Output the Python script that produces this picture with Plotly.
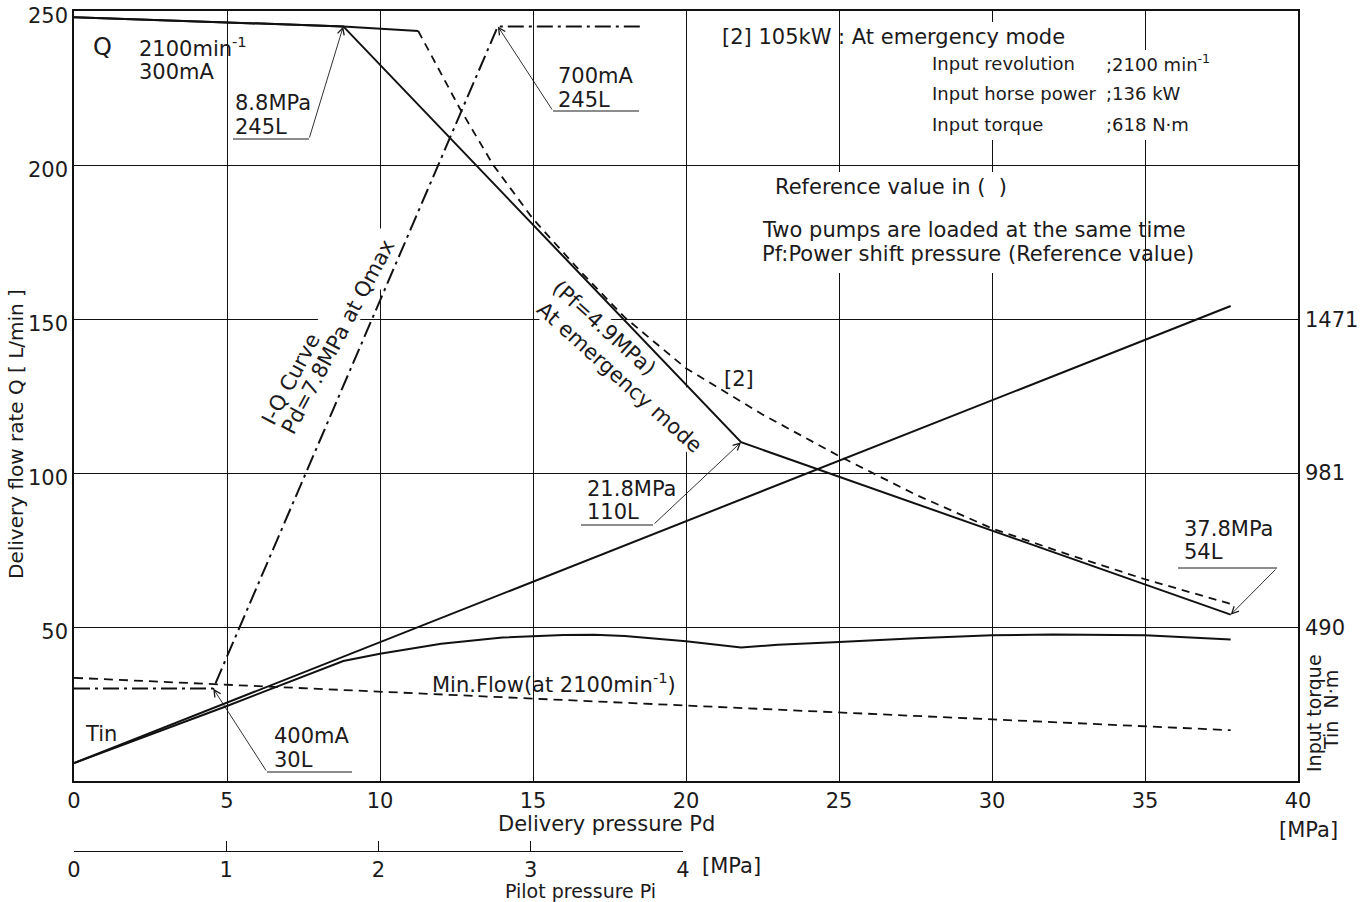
import math
import plotly.graph_objects as go

# ---------------- data ----------------
pd_ticks = [0, 5, 10, 15, 20, 25, 30, 35, 40]      # delivery pressure Pd [MPa]
q_ticks = [50, 100, 150, 200, 250]                  # delivery flow rate Q [L/min]
tin_ticks = [490, 981, 1471]                        # input torque Tin [N·m]
pilot_ticks = [0, 1, 2, 3, 4]                       # pilot pressure Pi [MPa]

# P-Q at emergency mode (Pf = 4.9 MPa)
emerg_pd = [0, 8.8, 21.8, 37.8]
emerg_q = [248, 245, 110, 54]

# [2] 105 kW curve
kw105_pd = [0, 8.8, 11.25, 12.6, 13.7, 15.0, 16.5, 18.0, 20.0, 22.5, 25.0, 27.5, 30.0, 32.5, 35.0, 37.8]
kw105_q = [248, 245, 243.5, 218.5, 200, 182.5, 166, 150.5, 134, 119, 105.5, 93, 82, 73.5, 65.5, 57.5]

# I-Q curve (Pd = 7.8 MPa at Qmax), 400 mA -> 30 L, 700 mA -> 245 L
iq_pd = [0, 4.55, 13.85, 18.55]
iq_q = [30, 30, 245, 245]

# minimum flow at 2100 min-1
minflow_pd = [0, 37.8]
minflow_q = [33.5, 16.5]

# input torque Tin [N·m]
tin_full_pd = [0, 37.8]
tin_full = [57, 1513]
tin_pd = [0, 5, 8.8, 10, 12, 14, 16, 17, 18, 20, 21.8, 23, 25, 27.5, 30, 32, 35, 37.8]
tin = [57, 239, 382, 405, 437, 457, 465, 466, 462, 445, 425, 434, 443, 455, 464, 467, 464, 451]

# ---------------- geometry ----------------
W, H = 1364, 902
ML, MR, MT, MB = 74, 66, 11, 51
PLOT_BOTTOM = 781
PD_MAX, Q_MAX = 40, 250
NM_PER_LPM = 9.81          # torque scale on the right per unit of the flow scale

plot_w = W - ML - MR
paper_h = H - MT - MB
plot_h = PLOT_BOTTOM - MT
y_dom0 = (H - MB - PLOT_BOTTOM) / paper_h


def px_x(px):
    return (px - ML) / plot_w * PD_MAX


def px_y(py):
    return (PLOT_BOTTOM - py) / plot_h * Q_MAX


def paper_x(px):
    return (px - ML) / plot_w


def paper_y(py):
    return (H - MB - py) / paper_h


INK = "#1c1a1b"
FONT = "DejaVu Sans"

annotations = []
shapes = []


def label(px, py, text, size=21, anchor="left", **kw):
    annotations.append(dict(
        x=px_x(px), y=px_y(py), xref="x", yref="y", text=text, showarrow=False,
        xanchor=anchor, yanchor="middle", font=dict(family=FONT, size=size, color=INK), **kw))


def paper_label(px, py, text, size=21, anchor="center", angle=0):
    annotations.append(dict(
        x=paper_x(px), y=paper_y(py), xref="paper", yref="paper", text=text,
        showarrow=False, xanchor=anchor, yanchor="middle", textangle=angle,
        font=dict(family=FONT, size=size, color=INK)))


def callout(lines, left, centers, ul_x0, ul_x1, ul_y, elbow_x, target):
    for t, cy in zip(lines, centers):
        label(left, cy, t)
    shapes.append(dict(type="line", xref="x", yref="y", x0=px_x(ul_x0), x1=px_x(ul_x1),
                       y0=px_y(ul_y), y1=px_y(ul_y), line=dict(color=INK, width=1)))
    annotations.append(dict(
        x=target[0], y=target[1], ax=px_x(elbow_x), ay=px_y(ul_y), xref="x", yref="y",
        axref="x", ayref="y", text="", showarrow=True, arrowhead=5, arrowsize=1.5,
        arrowwidth=0.9, arrowcolor=INK, standoff=0))


def rect_plate(x0, x1, y0, y1):
    # white plate behind text, above the grid but beneath the curves
    shapes.append(dict(type="rect", xref="x", yref="y", x0=px_x(x0), x1=px_x(x1),
                       y0=px_y(y1), y1=px_y(y0), fillcolor="white", line=dict(width=0),
                       layer="between"))


def rotated_plate(cx, cy, length, thick, angle_deg):
    a = math.radians(angle_deg)
    ux, uy = math.cos(a), math.sin(a)
    vx, vy = -uy, ux
    pts = []
    for s, t in ((-1, -1), (1, -1), (1, 1), (-1, 1)):
        px = cx + s * length / 2 * ux + t * thick / 2 * vx
        py = cy + s * length / 2 * uy + t * thick / 2 * vy
        pts.append((px_x(px), px_y(py)))
    path = "M " + " L ".join(f"{x:.4f},{y:.4f}" for x, y in pts) + " Z"
    shapes.append(dict(type="path", path=path, xref="x", yref="y", fillcolor="white",
                       line=dict(width=0), layer="between"))


# ---------------- traces ----------------
fig = go.Figure()
black = "#111111"

fig.add_trace(go.Scatter(x=emerg_pd, y=emerg_q, mode="lines",
                         line=dict(color=black, width=2)))
fig.add_trace(go.Scatter(x=kw105_pd[:3], y=kw105_q[:3], mode="lines",
                         line=dict(color=black, width=2)))
fig.add_trace(go.Scatter(x=kw105_pd[2:], y=kw105_q[2:], mode="lines",
                         line=dict(color=black, width=1.8, dash="8px,6px")))
fig.add_trace(go.Scatter(x=iq_pd, y=iq_q, mode="lines",
                         line=dict(color=black, width=2, dash="16px,5px,3px,5px")))
fig.add_trace(go.Scatter(x=minflow_pd, y=minflow_q, mode="lines",
                         line=dict(color=black, width=1.8, dash="9px,6px")))
fig.add_trace(go.Scatter(x=tin_full_pd, y=tin_full, mode="lines", yaxis="y2",
                         line=dict(color=black, width=2)))
fig.add_trace(go.Scatter(x=tin_pd, y=tin, mode="lines", yaxis="y2",
                         line=dict(color=black, width=2)))
# carrier for the pilot-pressure scale (on a hidden y axis so no extra grid is drawn)
fig.add_trace(go.Scatter(x=pilot_ticks, y=[None] * len(pilot_ticks), mode="lines",
                         xaxis="x2", yaxis="y3", hoverinfo="skip"))

# ---------------- texts ----------------
label(91, 47, "Q", size=24)
label(137, 47, "2100min<sup>-1</sup>")
label(137, 72, "300mA")

callout(["8.8MPa", "245L"], 233, [103, 127], 233, 309, 139, 309, (emerg_pd[1], emerg_q[1]))
callout(["700mA", "245L"], 556, [76, 100], 553, 639, 111, 553, (iq_pd[2], iq_q[2]))
callout(["21.8MPa", "110L"], 585, [489, 512], 581, 653, 525, 653, (emerg_pd[2], emerg_q[2]))
callout(["37.8MPa", "54L"], 1182, [529, 552], 1178, 1277, 568, 1277, (emerg_pd[3], emerg_q[3]))
callout(["400mA", "30L"], 272, [736, 760], 267, 352, 772, 267, (iq_pd[1], iq_q[1]))

label(720, 37, "[2] 105kW : At emergency mode")
rect_plate(848, 1062, 22, 52)
rect_plate(925, 1220, 50, 140)
for py, name, val in ((63, "Input revolution", ";2100 min<sup>-1</sup>"),
                      (93, "Input horse power", ";136 kW"),
                      (124, "Input torque", ";618 N·m")):
    label(930, py, name, size=18)
    label(1104, py, val, size=18)

rect_plate(770, 1010, 172, 273)
label(773, 187, "Reference value in ( \u00a0)")
label(760, 230, "Two pumps are loaded at the same time")
label(760, 254, "Pf:Power shift pressure (Reference value)")

label(739, 379, "[2]", anchor="center")
label(430, 683, "Min.Flow(at 2100min<sup>-1</sup>)")
label(83, 734, "Tin")

rotated_plate(328, 336, 237, 35, -56)
label(291, 379, "I-Q Curve", anchor="center", textangle=-62)
label(338, 337, "Pd=7.8MPa at Qmax", anchor="center", textangle=-62)

rotated_plate(628, 367, 210, 48, 42)
label(604, 328, "(Pf=4.9MPa)", anchor="center", textangle=42)
label(619, 377, "At emergency mode", anchor="center", textangle=42)

paper_label(16, 434, "Delivery flow rate Q [ L/min ]", size=20, angle=-90)
paper_label(1314, 713, "Input torque", size=19, angle=-90)
paper_label(1331, 710, "Tin \u00a0N·m", size=19, angle=-90)
paper_label(606, 824, "Delivery pressure Pd")
paper_label(1308, 830, "[MPa]")
paper_label(700, 866, "[MPa]", anchor="left")
paper_label(580, 891, "Pilot pressure Pi", size=19)

# ---------------- layout ----------------
tick_font = dict(family=FONT, size=21, color=INK)
fig.update_layout(
    width=W, height=H, template="none", showlegend=False,
    paper_bgcolor="white", plot_bgcolor="rgba(0,0,0,0)",
    margin=dict(l=ML, r=MR, t=MT, b=MB, pad=0),
    font=dict(family=FONT, color=INK),
    xaxis=dict(range=[0, PD_MAX], tickvals=pd_ticks, ticks="", showgrid=True,
               gridcolor=black, gridwidth=1.3, zeroline=False, showline=True,
               mirror=True, linecolor=black, linewidth=1.6, tickfont=tick_font,
               ticklabelstandoff=0, ticklabeloverflow="allow"),
    yaxis=dict(range=[0, Q_MAX], domain=[y_dom0, 1], tickvals=q_ticks, ticks="",
               showgrid=True, gridcolor=black, gridwidth=1.3, zeroline=False,
               showline=True, mirror=True, linecolor=black, linewidth=1.6,
               tickfont=tick_font, ticklabelstandoff=0, ticklabelshift=5,
               ticklabeloverflow="allow"),
    yaxis2=dict(range=[0, Q_MAX * NM_PER_LPM], overlaying="y", side="right",
                tickvals=tin_ticks, ticks="", showgrid=False, zeroline=False,
                showline=False, tickfont=tick_font, ticklabelstandoff=6,
                ticklabeloverflow="allow"),
    yaxis3=dict(range=[0, 1], overlaying="y", visible=False, showgrid=False),
    xaxis2=dict(range=[0, pilot_ticks[-1]], domain=[0, paper_x(683)], anchor="free",
                position=0, tickvals=pilot_ticks, ticks="inside", ticklen=10,
                tickcolor=black, tickwidth=1.3, showline=True, linecolor=black,
                linewidth=1.3, showgrid=False, zeroline=False, tickfont=tick_font,
                ticklabeloverflow="allow"),
    annotations=annotations,
    shapes=shapes,
)

fig.write_html("out.html")
